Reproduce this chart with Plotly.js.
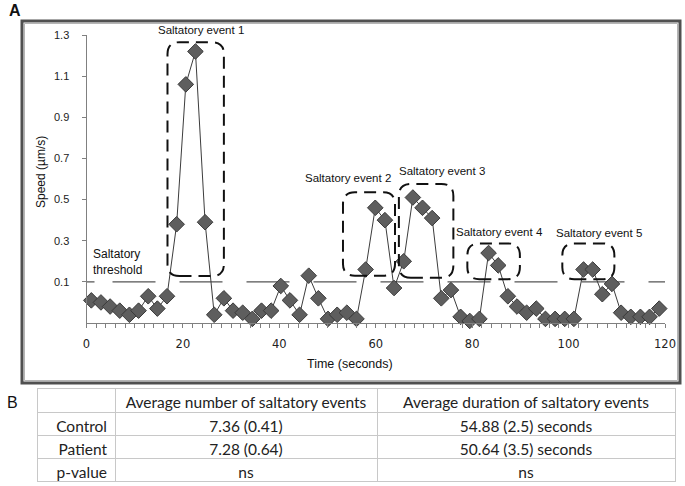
<!DOCTYPE html>
<html>
<head>
<meta charset="utf-8">
<script src="https://cdn.plot.ly/plotly-3.0.1.min.js"></script>
<style>html,body{margin:0;padding:0;background:#fff;}#chart{width:685px;height:486px;}</style>
</head>
<body>
<div id="chart"></div>
<script>
// ---- data ----
const timeSec = [1.0,3.0,4.9,6.9,8.9,10.8,12.8,14.7,16.7,18.7,20.6,22.6,24.6,26.5,28.5,30.4,32.4,34.4,36.3,38.3,
  40.3,42.2,44.2,46.1,48.1,50.1,52.0,54.0,56.0,57.9,59.9,61.9,63.8,65.8,67.7,69.7,71.7,73.6,75.6,77.6,
  79.5,81.5,83.4,85.4,87.4,89.3,91.3,93.3,95.2,97.2,99.2,101.1,103.1,105.0,107.0,109.0,110.9,112.9,114.9,116.8,118.8];
const speed = [0.01,0.00,-0.02,-0.04,-0.06,-0.04,0.03,-0.03,0.03,0.38,1.06,1.22,0.39,-0.06,0.02,-0.04,-0.05,-0.08,-0.04,-0.04,
  0.08,0.01,-0.06,0.13,0.02,-0.08,-0.06,-0.05,-0.08,0.16,0.46,0.40,0.07,0.20,0.51,0.46,0.41,0.02,0.06,-0.07,
  -0.09,-0.08,0.24,0.18,0.03,-0.02,-0.05,-0.03,-0.08,-0.08,-0.08,-0.08,0.16,0.16,0.04,0.09,-0.05,-0.07,-0.07,-0.07,-0.03];
const threshold = 0.1;
const eventNames = ['Saltatory event 1','Saltatory event 2','Saltatory event 3','Saltatory event 4','Saltatory event 5'];
const eventStart = [16.8, 53.2, 64.8, 79.0, 98.7];
const eventEnd   = [28.5, 64.0, 76.1, 89.9, 109.5];
const eventLow   = [0.128, 0.130, 0.120, 0.113, 0.113];
const eventHigh  = [1.265, 0.535, 0.576, 0.287, 0.287];
const yTicks = [0.1,0.3,0.5,0.7,0.9,1.1,1.3];
const tableHeader = ['', 'Average number of saltatory events', 'Average duration of saltatory events'];
const groups = ['Control','Patient','p-value'];
const avgNumber = ['7.36 (0.41)','7.28 (0.64)','ns'];
const avgDuration = ['54.88 (2.5) seconds','50.64 (3.5) seconds','ns'];

// ---- layout helpers (pixel -> paper) ----
const W = 685, H = 486;
const px = v => v / W;
const py = v => 1 - v / H;
const FONT = 'Liberation Sans, Arial, sans-serif';

// rounded rectangle path in data coords
const rx = 12 / 4.82, ry = 12 / 205.7;
function rrect(x0, x1, y0, y1) {
  return `M${x0+rx},${y0} L${x1-rx},${y0} Q${x1},${y0} ${x1},${y0+ry} L${x1},${y1-ry} Q${x1},${y1} ${x1-rx},${y1} ` +
         `L${x0+rx},${y1} Q${x0},${y1} ${x0},${y1-ry} L${x0},${y0+ry} Q${x0},${y0} ${x0+rx},${y0} Z`;
}

let thrDash = '8px,18px';
for (let i = 0; i < 10; i++) thrDash += ',43px,24px';

const shapes = [
  {type:'rect', xref:'paper', yref:'paper', x0:px(22), x1:px(680), y0:py(383), y1:py(21),
   line:{color:'#505050', width:3}, layer:'below'},
  {type:'rect', xref:'paper', yref:'paper', x0:px(24.5), x1:px(677.5), y0:py(380.5), y1:py(23.5),
   line:{color:'#b5b5b5', width:1}, layer:'below'},
  {type:'line', xref:'x', yref:'y', x0:0, x1:120, y0:threshold, y1:threshold,
   line:{color:'#555', width:1.3, dash:thrDash}, layer:'below'}
];
eventNames.forEach((n, i) => {
  shapes.push({type:'path', xref:'x', yref:'y', path: rrect(eventStart[i], eventEnd[i], eventLow[i], eventHigh[i]),
    line:{color:'#111', width:2, dash:'12px,7px'}});
});

const labelPos = [[201.3,30],[348.3,178.3],[442.3,170.7],[499.7,231.7],[598.8,233.3]];
const annotations = eventNames.map((n, i) => ({
  text:n, xref:'paper', yref:'paper', x:px(labelPos[i][0]), y:py(labelPos[i][1]),
  xanchor:'center', yanchor:'middle', showarrow:false, font:{family:FONT, size:11.5, color:'#111'}
}));
annotations.push({text:'Saltatory<br>threshold', xref:'paper', yref:'paper', x:px(91), y:py(262),
  xanchor:'left', yanchor:'middle', align:'left', showarrow:false, font:{family:FONT, size:12, color:'#111'}});
annotations.push({text:'<b>A</b>', xref:'paper', yref:'paper', x:px(7), y:py(11), xanchor:'left', yanchor:'middle',
  showarrow:false, font:{family:FONT, size:16, color:'#111'}});
annotations.push({text:'B', xref:'paper', yref:'paper', x:px(5), y:py(402), xanchor:'left', yanchor:'middle',
  showarrow:false, font:{family:FONT, size:16, color:'#111'}});
annotations.push({text:'Time (seconds)', xref:'paper', yref:'paper', x:px(350), y:py(364), xanchor:'center', yanchor:'middle',
  showarrow:false, font:{family:FONT, size:12.5, color:'#111'}});
annotations.push({text:'Speed (µm/s)', xref:'paper', yref:'paper', x:px(41), y:py(172), xanchor:'center', yanchor:'middle',
  textangle:-90, showarrow:false, font:{family:FONT, size:12, color:'#111'}});

const traces = [
  {type:'scatter', mode:'lines+markers', x:timeSec, y:speed, xaxis:'x', yaxis:'y',
   line:{color:'#3c3c3c', width:1},
   marker:{symbol:'diamond', size:12, color:'#5e5e5e', line:{color:'#3a3a3a', width:1}},
   cliponaxis:false, hoverinfo:'x+y'},
  {type:'table', domain:{x:[px(37), px(675)], y:[0, py(388)]},
   columnwidth:[78, 262, 298],
   header:{values:tableHeader, align:['right','center','center'], height:24,
     line:{color:'#c8c8c8', width:1}, fill:{color:'#fff'},
     font:{family:'Lato, Carlito, sans-serif', size:15.5, color:'#222'}},
   cells:{values:[groups, avgNumber, avgDuration], align:['right','center','center'], height:23,
     line:{color:'#c8c8c8', width:1}, fill:{color:'#fff'},
     font:{family:'Lato, Carlito, sans-serif', size:15.5, color:'#222'}}}
];

const layout = {
  width:W, height:H, margin:{l:0, r:0, t:0, b:0},
  paper_bgcolor:'#fff', plot_bgcolor:'#fff', showlegend:false,
  xaxis:{domain:[px(86.5), px(665)], range:[0,120], tick0:0, dtick:20, ticks:'outside', ticklen:4,
    tickcolor:'#808080', showline:true, linecolor:'#808080', linewidth:1, showgrid:false, zeroline:false,
    ticklabelstandoff:6, tickfont:{family:'DejaVu Sans, sans-serif', size:11.5, color:'#222'},
    minor:{dtick:2, ticks:'outside', ticklen:4, tickcolor:'#808080', showgrid:false}},
  yaxis:{domain:[py(323), py(35)], range:[-0.1,1.3], tickvals:yTicks, ticktext:yTicks.map(v=>v.toFixed(1)),
    ticks:'outside', ticklen:4, tickcolor:'#808080', showline:true, linecolor:'#808080', linewidth:1,
    showgrid:false, zeroline:false, ticklabelstandoff:10,
    tickfont:{family:FONT, size:11, color:'#222'}},
  shapes:shapes, annotations:annotations
};

Plotly.newPlot('chart', traces, layout, {displayModeBar:false, staticPlot:true});
</script>
</body>
</html>
